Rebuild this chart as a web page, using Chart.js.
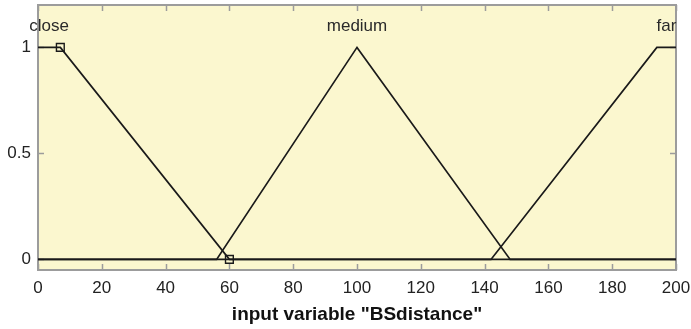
<!DOCTYPE html>
<html>
<head>
<meta charset="utf-8">
<title>Membership functions - BSdistance</title>
<script src="https://cdn.jsdelivr.net/npm/chart.js@4.4.1/dist/chart.umd.min.js"></script>
<style>
  html, body { margin: 0; padding: 0; background: #ffffff; }
  #wrap { width: 691px; height: 329px; }
</style>
</head>
<body>
<div id="wrap"><canvas id="mfChart" width="691" height="329"></canvas></div>
<script>
// membership functions of input "BSdistance" (x, degree) breakpoints
const closeX  = [0, 7, 60, 200];
const closeY  = [1, 1, 0, 0];
const mediumX = [0, 56, 100, 148, 200];
const mediumY = [0, 0, 1, 0, 0];
const farX    = [0, 142, 194, 200];
const farY    = [0, 0, 1, 1];

// label text and where it sits (centre of the plateau, just above 1)
const mfNames  = ['close', 'medium', 'far'];
const mfLabelX = [3.5, 100, 197];
const mfLabelY = 1.1;

const xTicks = [0, 20, 40, 60, 80, 100, 120, 140, 160, 180, 200];
const yTicks = [0, 0.5, 1];

const LINE = '#1a1a1a';
const AXIS = '#9c9c9c';
const TEXT = '#222222';
const FILL = '#fbf7cf';
const FONT = 'Arial, "Liberation Sans", sans-serif';

const pts = (xs, ys) => xs.map((x, i) => ({ x: x, y: ys[i] }));

// yellow plot background, grey box, inward tick marks (under the curves),
// mf names on top
const axesBox = {
  id: 'axesBox',
  beforeDatasetsDraw(chart) {
    const { ctx, chartArea: a, scales } = chart;
    ctx.save();
    ctx.fillStyle = FILL;
    ctx.fillRect(a.left, a.top, a.right - a.left, a.bottom - a.top);

    ctx.strokeStyle = AXIS;
    ctx.lineWidth = 1.5;
    ctx.beginPath();
    xTicks.forEach(v => {
      const px = Math.round(scales.x.getPixelForValue(v)) + 0.5;
      ctx.moveTo(px, a.top); ctx.lineTo(px, a.top + 6);
      ctx.moveTo(px, a.bottom); ctx.lineTo(px, a.bottom - 6);
    });
    yTicks.forEach(v => {
      const py = Math.round(scales.y.getPixelForValue(v)) + 0.5;
      ctx.moveTo(a.left, py); ctx.lineTo(a.left + 6, py);
      ctx.moveTo(a.right, py); ctx.lineTo(a.right - 6, py);
    });
    ctx.stroke();
    ctx.lineWidth = 2;
    ctx.strokeRect(a.left, a.top, a.right - a.left, a.bottom - a.top);
    ctx.restore();
  },
  afterDatasetsDraw(chart) {
    const { ctx, scales } = chart;
    ctx.save();
    ctx.fillStyle = '#2a2a2a';
    ctx.font = '17px ' + FONT;
    ctx.textAlign = 'center';
    ctx.textBaseline = 'middle';
    mfNames.forEach((name, i) => {
      ctx.fillText(name, scales.x.getPixelForValue(mfLabelX[i]), scales.y.getPixelForValue(mfLabelY));
    });
    ctx.restore();
  }
};

const lineSet = (label, data, extra) => Object.assign({
  label: label,
  data: data,
  borderColor: LINE,
  borderWidth: 1.7,
  pointRadius: 0,
  tension: 0,
  fill: false
}, extra || {});

new Chart(document.getElementById('mfChart'), {
  type: 'line',
  data: {
    datasets: [
      lineSet('close', pts(closeX, closeY), {
        pointStyle: 'rect',
        pointRadius: [0, 5.5, 5.5, 0],
        pointBorderColor: LINE,
        pointBorderWidth: 1.4,
        pointBackgroundColor: 'rgba(0,0,0,0)'
      }),
      lineSet('medium', pts(mediumX, mediumY)),
      lineSet('far', pts(farX, farY))
    ]
  },
  options: {
    responsive: false,
    animation: false,
    layout: { padding: { top: 5, right: 15, left: 0, bottom: 0 } },
    plugins: {
      legend: { display: false },
      tooltip: { enabled: false }
    },
    scales: {
      x: {
        type: 'linear',
        min: 0,
        max: 200,
        afterBuildTicks(s) { s.ticks = xTicks.map(v => ({ value: v })); },
        afterFit(s) { s.height = 59; s.paddingLeft = 0; s.paddingRight = 0; },
        grid: { display: false, drawTicks: false },
        border: { display: false },
        ticks: {
          color: TEXT,
          padding: 8,
          maxRotation: 0,
          autoSkip: false,
          font: { family: FONT, size: 17 }
        },
        title: {
          display: true,
          text: 'input variable "BSdistance"',
          color: '#111111',
          padding: { top: 0, bottom: 3 },
          font: { family: FONT, size: 19, weight: 'bold' }
        }
      },
      y: {
        type: 'linear',
        min: -0.05,
        max: 1.2,
        afterBuildTicks(s) { s.ticks = yTicks.map(v => ({ value: v })); },
        afterFit(s) { s.width = 38; s.paddingTop = 0; s.paddingBottom = 0; },
        grid: { display: false, drawTicks: false },
        border: { display: false },
        ticks: {
          color: TEXT,
          padding: 7,
          autoSkip: false,
          callback: v => String(v),
          font: { family: FONT, size: 17 }
        }
      }
    }
  },
  plugins: [axesBox]
});
</script>
</body>
</html>
